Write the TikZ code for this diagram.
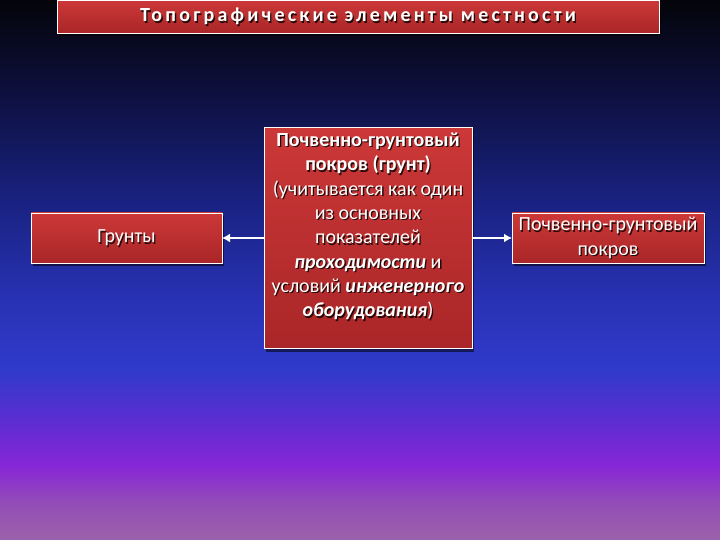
\documentclass[tikz,border=0pt]{standalone}
\usepackage{fontspec}
\setmainfont{Carlito}
\newfontfamily\titlefont[LetterSpace=16]{Carlito}
\usetikzlibrary{shadows,arrows.meta}
\definecolor{c0}{RGB}{4,4,10}
\definecolor{c1}{RGB}{14,17,66}
\definecolor{c2}{RGB}{25,34,128}
\definecolor{c3}{RGB}{40,50,180}
\definecolor{c4}{RGB}{48,58,204}
\definecolor{c5}{RGB}{92,45,210}
\definecolor{c6}{RGB}{135,38,214}
\definecolor{c7}{RGB}{148,78,182}
\definecolor{c8}{RGB}{156,98,170}
\definecolor{redtop}{RGB}{204,56,56}
\definecolor{redbot}{RGB}{170,38,40}
\tikzset{
  redbox/.style={draw=white, line width=0.9pt, top color=redtop, bottom color=redbot,
    drop shadow={shadow xshift=2pt, shadow yshift=-3pt, opacity=0.55, fill=black},
    inner sep=0pt, outer sep=0pt},
  wtext/.style={text=white, align=center, font=\fontsize{20}{24.3}\selectfont, inner sep=0pt},
  stext/.style={text=black, opacity=0.8, align=center, font=\fontsize{20}{24.3}\selectfont, inner sep=0pt},
  ttext/.style={font=\titlefont\bfseries\fontsize{20}{22}\selectfont, inner sep=0pt},
  conn/.style={draw=white, line width=2pt, -{Latex[length=8pt,width=9pt]}}
}
\begin{document}
\begin{tikzpicture}[x=1pt,y=-1pt]
\useasboundingbox (0,0) rectangle (720,540);
% background
\shade[top color=c0, bottom color=c1] (0,0) rectangle (720,100.5);
\shade[top color=c1, bottom color=c2] (0,100) rectangle (720,200.5);
\shade[top color=c2, bottom color=c3] (0,200) rectangle (720,300.5);
\shade[top color=c3, bottom color=c4] (0,300) rectangle (720,370.5);
\shade[top color=c4, bottom color=c5] (0,370) rectangle (720,420.5);
\shade[top color=c5, bottom color=c6] (0,420) rectangle (720,465.5);
\shade[top color=c6, bottom color=c7] (0,465) rectangle (720,505.5);
\shade[top color=c7, bottom color=c8] (0,505) rectangle (720,540);

% title
\node[redbox, minimum width=602pt, minimum height=33pt] (title) at (358,16.5) {};
\node[ttext, text=black, opacity=0.8] at ([shift={(1.3,1.3)}]title.center) {Топографические элементы местности};
\node[ttext, text=white] at (title.center) {Топографические элементы местности};

% boxes
\node[redbox, minimum width=191pt, minimum height=50pt] (left) at (126.5,238) {};
\node[redbox, minimum width=208pt, minimum height=221pt] (center) at (368,238) {};
\node[redbox, minimum width=192pt, minimum height=50pt] (right) at (608,238) {};

% texts
\node[stext] at ([shift={(1.3,1.3)}]left.center) {Грунты};
\node[wtext] at (left.center) {Грунты};
\node[stext] at ([shift={(1.3,1.3)}]right.center) {Почвенно-грунтовый\\покров};
\node[wtext] at (right.center) {Почвенно-грунтовый\\покров};
\node[stext] at ([shift={(1.3,-10.2)}]center.center) {\textbf{Почвенно-грунтовый}\\\textbf{покров (грунт)}\\(учитывается как один\\из основных\\показателей\\\textbf{\textit{проходимости}} и\\условий \textbf{\textit{инженерного}}\\\textbf{\textit{оборудования}})};
\node[wtext] at ([shift={(0,-11.5)}]center.center) {\textbf{Почвенно-грунтовый}\\\textbf{покров (грунт)}\\(учитывается как один\\из основных\\показателей\\\textbf{\textit{проходимости}} и\\условий \textbf{\textit{инженерного}}\\\textbf{\textit{оборудования}})};

% connectors
\draw[conn] (center.west) -- (left.east);
\draw[conn] (center.east) -- (right.west);
\end{tikzpicture}
\end{document}
